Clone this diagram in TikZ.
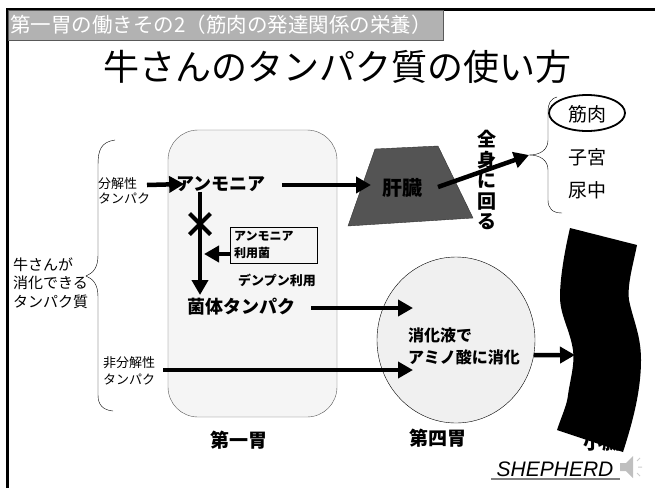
\documentclass[tikz,border=0pt]{standalone}
\usepackage{fontspec}
\setmainfont{Noto Sans CJK JP}
\newfontfamily\latinsf{Liberation Sans}
\usetikzlibrary{arrows.meta,shapes.geometric,shapes.misc}
\newcommand\fsz[1]{\fontsize{#1}{#1}\selectfont}

\begin{document}
\begin{tikzpicture}[x=1pt,y=-1pt,
  fat/.style={line width=4.5pt,-{Triangle[length=15pt,width=16pt]}},
  lbl/.style={inner sep=0pt,align=left},
  bold/.style={inner sep=0pt,font=\fsz{18}\bfseries}]
\useasboundingbox (0,0) rectangle (655,488);
% frame and heading
\draw[line width=3pt] (7,488) -- (7,9) -- (655,9);
\node[draw=gray!70!black,fill=gray!60,minimum width=435pt,minimum height=30pt,inner sep=0pt,anchor=north west] (bar) at (8,10) {};
\node[lbl,anchor=west,text=white,font=\fsz{20.5}] (bartxt) at (10,25) {第一胃の働きその2（筋肉の発達関係の栄養）};
\node[inner sep=0pt,font=\fsz{36}] (title) at (337,67) {牛さんのタンパク質の使い方};

% stomachs
\node[draw=gray!70!black,fill=black!4,rounded corners=30pt,minimum width=169pt,minimum height=287pt] (rumen) at (252.5,273.5) {};
\node[bold,font=\fsz{19}\bfseries] (rumenlbl) at (239,440) {第一胃};
\node[draw,ellipse,fill=black!6,minimum width=158pt,minimum height=166pt] (abom) at (456,340) {};
\node[bold,font=\fsz{19}\bfseries] (abomlbl) at (438,438) {第四胃};

% left braces and labels
\draw (115,140) .. controls (101,142) and (98,150) .. (98,165) -- (98,255)
  .. controls (98,268) and (93,273) .. (86,276) .. controls (93,279) and (98,284) .. (98,297)
  -- (98,395) .. controls (98,405) and (103,410) .. (113,411);
\node[lbl,anchor=west,font=\fontsize{15}{18.5}\selectfont] (cow) at (13,283) {牛さんが\\消化できる\\タンパク質};
\node[lbl,anchor=west,font=\fontsize{13}{15.5}\selectfont] (bunkai) at (98,191) {分解性\\タンパク};
\node[lbl,anchor=west,font=\fontsize{13}{16.5}\selectfont] (hibunkai) at (103,371) {非分解性\\タンパク};

% inside the rumen
\node[bold] (ammonia) at (221,184) {アンモニア};
\node[cross out,draw,line width=4pt,minimum size=17pt,inner sep=0pt] (block) at (200,224) {};
\node[draw,align=left,text width=79pt,inner sep=4pt,font=\fontsize{12}{17}\selectfont\bfseries,anchor=north west] (bugs) at (230,227) {アンモニア\\利用菌};
\node[bold,font=\fsz{13}\bfseries] (starch) at (277,280) {デンプン利用};
\node[bold] (kintai) at (241,307) {菌体タンパク};
\coordinate (join) at (204,254);
\draw[fat] (147,185) -- ([xshift=8pt]ammonia.west);
\draw[fat] (ammonia.south -| block) -- (200,295);
\draw[fat,line width=4pt] (bugs.west |- join) -- (join);

% liver and the body
\draw[fill=black!67,draw=black!80] (375,149) -- (438,146) -- (473,218) -- (348,226) -- cycle;
\node[bold,font=\fsz{20}\bfseries] (liver) at (402,188) {肝臓};
\coordinate (livin) at (371,185);
\draw[fat] ([xshift=16pt]ammonia.east |- livin) -- (livin);
\node[bold,align=center,font=\fontsize{19}{20.5}\selectfont\bfseries] (zenshin) at (487,180) {全\\身\\に\\回\\る};
\coordinate (tip) at (529,155);
\draw (557,97) .. controls (550,99) and (548,104) .. (548,112) -- (548,140)
  .. controls (548,150) and (540,155) .. (tip) .. controls (540,155) and (548,160) .. (548,170)
  -- (548,200) .. controls (548,208) and (552,213) .. (562,213);
\draw[fat] (438,187) -- (tip);
\node[draw,ellipse,line width=1.8pt,minimum width=76pt,minimum height=36pt] (musring) at (587,113) {};
\node[inner sep=0pt,font=\fsz{19}] (muscle) at (587,114) {筋肉};
\node[inner sep=0pt,font=\fsz{19}] (uterus) at (587,157) {子宮};
\node[inner sep=0pt,font=\fsz{19}] (urine) at (587,190) {尿中};

% abomasum
\node[lbl,anchor=west,font=\fontsize{16}{22}\selectfont\bfseries] (digest) at (408,346) {消化液で\\アミノ酸に消化};
\coordinate (in1) at (413,308);
\coordinate (in2) at (413,370);
\draw[fat] ([xshift=16pt]kintai.east |- in1) -- (in1);
\draw[fat] (163,370) -- (in2);

% small intestine
\fill (570,228) -- (637,245) .. controls (633,265) and (627,285) .. (629,300)
  .. controls (633,320) and (641,335) .. (641,360) .. controls (641,395) and (630,430) .. (623,452)
  -- (557,430) .. controls (562,415) and (567,405) .. (568,395)
  .. controls (570,380) and (575,365) .. (573,350) .. controls (570,330) and (560,315) .. (560,297)
  .. controls (560,275) and (566,245) .. (570,228) -- cycle;
\node[bold,font=\fsz{19}\bfseries] (gut) at (602,442) {小腸};
\coordinate (gutin) at (575,355);
\draw[fat] (abom.-11) -- (gutin);

% footer
\node[inner sep=0pt,font=\latinsf\itshape\fsz{21}] (shep) at (555,469) {SHEPHERD};
\draw[gray,line width=1.5pt] (491,479) -- (620,479);
\fill[gray!50] (620,463) rectangle (626,471) (626,463) -- (633,456) -- (633,478) -- (626,471) -- cycle;
\draw[gray!40,line width=1pt] (637,461) -- (640,458) (638,467) -- (642,467) (637,473) -- (640,476);
\end{tikzpicture}
\end{document}
